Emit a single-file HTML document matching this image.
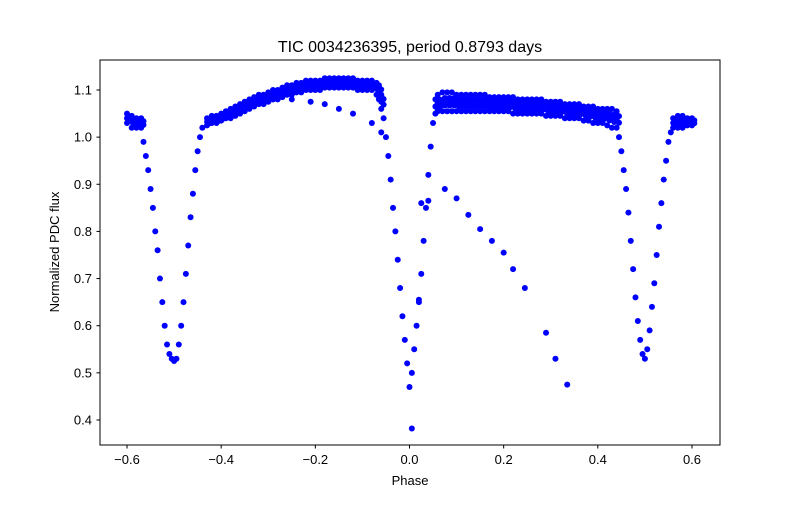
<!DOCTYPE html>
<html><head><meta charset="utf-8"><style>
body{margin:0;background:#fff}
svg text{font-family:"Liberation Sans","DejaVu Sans",sans-serif;fill:#000}
</style></head><body>
<svg id="chart" width="800" height="500" xmlns="http://www.w3.org/2000/svg">
<rect width="800" height="500" fill="#fff"/>
<text x="410" y="52" font-size="16" text-anchor="middle">TIC 0034236395, period 0.8793 days</text>
<g id="marks"></g>
<rect x="100" y="60" width="620" height="385" fill="none" stroke="#000" stroke-width="1"/>
<g id="axes"></g>
<text x="410" y="485" font-size="13" text-anchor="middle">Phase</text>
<text transform="translate(59,252) rotate(-90)" font-size="13" text-anchor="middle">Normalized PDC flux</text>
</svg>
<script>
const phases=[
-0.60,-0.59,-0.58,-0.57,
-0.565,-0.56,-0.555,-0.55,-0.545,-0.54,-0.535,-0.53,-0.525,-0.52,-0.515,-0.51,-0.505,-0.50,-0.495,-0.49,-0.485,-0.48,-0.475,-0.47,-0.465,-0.46,-0.455,-0.45,-0.445,-0.44,
-0.43,-0.42,-0.41,-0.40,-0.39,-0.38,-0.37,-0.36,-0.35,-0.34,-0.33,-0.32,-0.31,-0.30,-0.29,-0.28,-0.27,-0.26,-0.25,-0.24,-0.23,-0.22,-0.21,-0.20,-0.19,-0.18,-0.17,-0.16,-0.15,-0.14,-0.13,-0.12,-0.11,-0.10,-0.09,-0.08,-0.07,
-0.065,-0.06,-0.055,-0.05,-0.045,-0.04,-0.035,-0.03,-0.025,-0.02,-0.015,-0.01,-0.005,0.0,0.005,0.01,0.015,0.02,0.025,0.03,0.035,0.04,0.045,0.05,
0.055,0.06,0.07,0.08,0.09,0.10,0.11,0.12,0.13,0.14,0.15,0.16,0.17,0.18,0.19,0.20,0.21,0.22,0.23,0.24,0.25,0.26,0.27,0.28,0.29,0.30,0.31,0.32,0.33,0.34,0.35,0.36,0.37,0.38,0.39,0.40,0.41,0.42,0.43,0.44,
0.445,0.45,0.455,0.46,0.465,0.47,0.475,0.48,0.485,0.49,0.495,0.50,0.505,0.51,0.515,0.52,0.525,0.53,0.535,0.54,0.545,0.55,0.555,
0.56,0.57,0.58,0.59,0.60];
const fluxLow=[
1.03,1.02,1.02,1.02,
0.99,0.96,0.93,0.89,0.85,0.80,0.76,0.70,0.65,0.60,0.56,0.54,0.53,0.525,0.53,0.56,0.60,0.65,0.71,0.77,0.83,0.88,0.93,0.97,1.00,1.02,
1.025,1.03,1.03,1.035,1.04,1.04,1.045,1.05,1.055,1.06,1.065,1.07,1.07,1.075,1.08,1.08,1.085,1.09,1.09,1.095,1.095,1.10,1.10,1.10,1.10,1.105,1.105,1.105,1.105,1.105,1.105,1.105,1.10,1.10,1.10,1.10,1.09,
1.08,1.06,1.04,1.00,0.96,0.91,0.85,0.80,0.74,0.68,0.62,0.57,0.52,0.47,0.50,0.55,0.60,0.65,0.71,0.78,0.85,0.92,0.98,1.03,
1.05,1.055,1.055,1.055,1.055,1.055,1.055,1.055,1.055,1.055,1.055,1.055,1.055,1.055,1.055,1.055,1.055,1.05,1.05,1.05,1.05,1.05,1.05,1.05,1.045,1.045,1.045,1.045,1.04,1.04,1.04,1.04,1.035,1.035,1.03,1.03,1.03,1.025,1.02,1.02,
1.00,0.97,0.93,0.89,0.84,0.78,0.72,0.66,0.61,0.57,0.54,0.53,0.55,0.59,0.64,0.69,0.75,0.81,0.86,0.91,0.95,0.99,1.01,
1.02,1.02,1.02,1.025,1.025];
const fluxHigh=[
1.05,1.045,1.04,1.04,
0.99,0.96,0.93,0.89,0.85,0.80,0.76,0.70,0.65,0.60,0.56,0.54,0.53,0.525,0.53,0.56,0.60,0.65,0.71,0.77,0.83,0.88,0.93,0.97,1.00,1.02,
1.04,1.045,1.045,1.05,1.055,1.06,1.065,1.07,1.075,1.08,1.085,1.09,1.09,1.095,1.10,1.10,1.105,1.11,1.11,1.115,1.115,1.12,1.12,1.12,1.12,1.125,1.125,1.125,1.125,1.125,1.125,1.125,1.12,1.12,1.12,1.12,1.115,
1.11,1.09,1.04,1.00,0.96,0.91,0.85,0.80,0.74,0.68,0.62,0.57,0.52,0.47,0.50,0.55,0.60,0.65,0.71,0.78,0.85,0.92,0.98,1.03,
1.08,1.09,1.095,1.095,1.095,1.09,1.09,1.09,1.09,1.09,1.09,1.09,1.085,1.085,1.085,1.085,1.085,1.085,1.08,1.08,1.08,1.08,1.08,1.08,1.075,1.075,1.075,1.075,1.07,1.07,1.07,1.07,1.065,1.065,1.065,1.06,1.06,1.06,1.06,1.055,
1.00,0.97,0.93,0.89,0.84,0.78,0.72,0.66,0.61,0.57,0.54,0.53,0.55,0.59,0.64,0.69,0.75,0.81,0.86,0.91,0.95,0.99,1.01,
1.04,1.045,1.045,1.04,1.04];
const outlierPhase=[-0.29,-0.25,-0.21,-0.18,-0.15,-0.12,-0.08,-0.06,0.005,0.04,0.075,0.10,0.125,0.15,0.175,0.20,0.22,0.245,0.29,0.31,0.335,0.02,0.025];
const outlierFlux=[1.08,1.08,1.075,1.07,1.06,1.05,1.03,1.01,0.382,0.865,0.89,0.87,0.835,0.805,0.78,0.755,0.72,0.68,0.585,0.53,0.475,0.655,0.86];
const xTicks=[-0.6,-0.4,-0.2,0.0,0.2,0.4,0.6];
const xTickLabels=["−0.6","−0.4","−0.2","0.0","0.2","0.4","0.6"];
const yTicks=[0.4,0.5,0.6,0.7,0.8,0.9,1.0,1.1];
const yTickLabels=["0.4","0.5","0.6","0.7","0.8","0.9","1.0","1.1"];

const X=v=>409.5+v*470.8;
const Y=v=>90+(1.1-v)*471.4;
const NS="http://www.w3.org/2000/svg";
const marks=document.getElementById('marks');
function dot(px,f){
  if(px===undefined||f===undefined) return;
  const c=document.createElementNS(NS,'circle');
  c.setAttribute('cx',X(px));c.setAttribute('cy',Y(f));c.setAttribute('r',3);c.setAttribute('fill','#0000ff');
  
  
  marks.appendChild(c);
}
phases.forEach((p,i)=>{
  const lo=fluxLow[i],hi=fluxHigh[i];
  dot(p,lo);
  if(hi-lo>0.001){dot(p,hi);dot(p,(lo+hi)/2);dot(p+0.005,(lo*0.7+hi*0.3));dot(p+0.005,(lo*0.3+hi*0.7));}
});
outlierPhase.forEach((p,i)=>dot(p,outlierFlux[i]));
const axes=document.getElementById('axes');
xTicks.forEach((t,i)=>{
  const l=document.createElementNS(NS,'line');
  l.setAttribute('x1',X(t));l.setAttribute('x2',X(t));l.setAttribute('y1',445);l.setAttribute('y2',448.5);l.setAttribute('stroke','#000');
  
  
  axes.appendChild(l);
  const tx=document.createElementNS(NS,'text');
  tx.setAttribute('x',X(t));tx.setAttribute('y',464);tx.setAttribute('font-size','13');tx.setAttribute('text-anchor','middle');
  tx.textContent=xTickLabels[i];
  
  
  axes.appendChild(tx);
});
yTicks.forEach((t,i)=>{
  const l=document.createElementNS(NS,'line');
  l.setAttribute('x1',96.5);l.setAttribute('x2',100);l.setAttribute('y1',Y(t));l.setAttribute('y2',Y(t));l.setAttribute('stroke','#000');
  
  
  axes.appendChild(l);
  const tx=document.createElementNS(NS,'text');
  tx.setAttribute('x',92);tx.setAttribute('y',Y(t)+4.5);tx.setAttribute('font-size','13');tx.setAttribute('text-anchor','end');
  tx.textContent=yTickLabels[i];
  
  
  axes.appendChild(tx);
});
</script>
</body></html>
